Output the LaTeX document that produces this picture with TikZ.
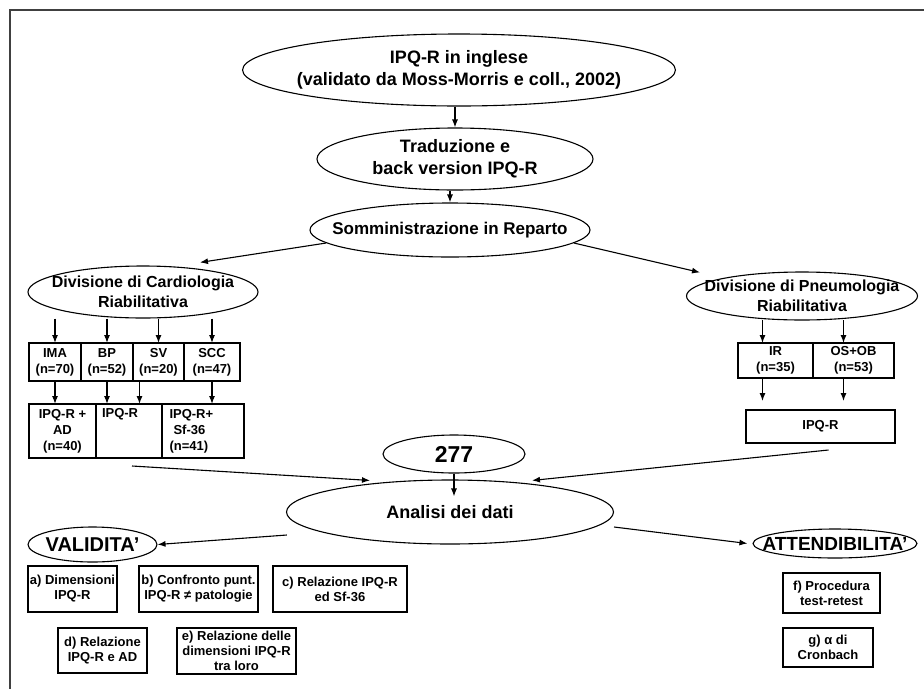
\documentclass[tikz,border=0pt]{standalone}
\usepackage{fontspec}
\setmainfont{Liberation Sans}
\usetikzlibrary{calc}
\usetikzlibrary{shapes,arrows.meta}
\usetikzlibrary{positioning}
\newcommand{\fsz}[2]{\fontsize{#1}{#2}\selectfont\bfseries}
\tikzstyle{ell}=[ellipse, draw, line width=1.1pt, align=center, inner ysep=0pt]
\tikzstyle{cell}=[rectangle, draw, line width=1.1pt, align=center, inner sep=0pt,
outer sep=0pt, font=\fsz{13}{16}]
\tikzstyle{bx}=[rectangle, draw, line width=1.1pt, align=center, inner sep=0pt,
font=\fsz{13}{15}]
\tikzstyle{arr}=[-{Latex[length=8pt,width=6pt]}, line width=1.1pt]

\begin{document}
\begin{tikzpicture}[x=1pt,y=-1pt]
\useasboundingbox (0,0) rectangle (924,689);
\draw[line width=1.6pt, black!75] (924,10) -- (10,10) -- (10,689);

% questionario e somministrazione
\node[ell, minimum width=432pt, minimum height=72pt, inner xsep=-9pt, font=\fsz{18}{22}]
(n1) at (459,70) {IPQ-R in inglese\\(validato da Moss-Morris e coll., 2002)};
\node[ell, minimum width=276pt, minimum height=62pt, font=\fsz{18}{22}]
(n2) at (455,159) {Traduzione e\\back version IPQ-R};
\node[ell, minimum width=280pt, minimum height=54pt, inner xsep=-27pt, font=\fsz{17}{20}]
(n3) at (450,230) {Somministrazione in Reparto};
\node[ell, minimum width=230pt, minimum height=52pt, inner xsep=-10pt, font=\fsz{16}{20}]
(n4) at (143,292) {Divisione di Cardiologia\\Riabilitativa};
\node[ell, minimum width=231pt, minimum height=48pt, inner xsep=-16pt, inner ysep=-2pt,
font=\fsz{16}{20}] (n5) at (802,296) {Divisione di Pneumologia\\Riabilitativa};

% cardiologia
\node[cell, minimum width=52pt, minimum height=38pt] (ima) at (55,362) {IMA\\(n=70)};
\node[cell, minimum width=52pt, minimum height=38pt, right=0pt of ima] (bp) {BP\\(n=52)};
\node[cell, minimum width=51pt, minimum height=38pt, right=0pt of bp] (sv) {SV\\(n=20)};
\node[cell, minimum width=56pt, minimum height=38pt, right=0pt of sv] (scc) {SCC\\(n=47)};
\node[cell, minimum width=67pt, minimum height=54pt] (c1) at (62.5,431) {IPQ-R +\\AD\\(n=40)};
\node[cell, minimum width=66pt, minimum height=54pt, text width=54pt, align=left,
right=0pt of c1] (c2) {IPQ-R\\\strut\\\strut};
\node[cell, minimum width=82pt, minimum height=54pt, text width=67pt, align=left,
right=0pt of c2] (c3) {IPQ-R+\\\hspace*{4pt}Sf-36\\(n=41)};
\draw[line width=2.6pt] (c3.north west) -- (c3.south west);

% pneumologia
\node[cell, minimum width=75pt, minimum height=35pt] (ir) at (775.5,360.5) {IR\\(n=35)};
\node[cell, minimum width=81pt, minimum height=35pt, right=0pt of ir] (os) {OS+OB\\(n=53)};
\node[cell, minimum width=149pt, minimum height=33pt] (p3) at (820.5,426.5) {IPQ-R};

% analisi
\node[ell, minimum width=142pt, minimum height=38pt, font=\fsz{23}{26}] (n6) at (454,454) {277};
\node[ell, minimum width=327pt, minimum height=64pt, font=\fsz{18}{22}] (n7) at (450,512) {Analisi dei dati};
\node[ell, minimum width=129pt, minimum height=35pt, inner xsep=-3.5pt, font=\fsz{20}{24}]
(n8) at (92.5,544.5) {VALIDITA'};
\node[ell, minimum width=164pt, minimum height=29pt, inner xsep=-18.3pt, font=\fsz{19}{23}]
(n9) at (835,543.5) {ATTENDIBILITA'};

\node[bx, minimum width=89pt, minimum height=46pt] (na) at (72.5,589) {a) Dimensioni\\IPQ-R};
\node[bx, minimum width=119pt, minimum height=46pt] (nb) at (198.5,589) {b) Confronto punt.\\IPQ-R ≠ patologie};
\node[bx, minimum width=134pt, minimum height=46pt] (nc) at (340,589) {c) Relazione IPQ-R\\ed Sf-36};
\node[bx, minimum width=89pt, minimum height=45pt] (nd) at (102.5,650.5) {d) Relazione\\IPQ-R e AD};
\node[bx, minimum width=119pt, minimum height=46pt] (ne) at (236.5,651) {e) Relazione delle\\dimensioni IPQ-R\\tra loro};
\node[bx, minimum width=97pt, minimum height=40pt] (nf) at (831.5,593) {f) Procedura\\test-retest};
\node[bx, minimum width=90pt, minimum height=39pt] (ng) at (828,647.5) {g) α di\\Cronbach};

% frecce
\draw[arr] (n2.north |- n1.south) -- (n2.north);
\draw[arr] (n3.north |- n2.south) -- (n3.north);
\draw[arr] (n3.186) -- ($(n4.north)+(57,-3)$);
\draw[arr] (n3.-6) -- ($(n5.north)+(-102,1)$);
\foreach \c in {ima,bp,sv,scc}
  \draw[arr] (n4.south -| \c.north) -- (\c.north);
\draw[arr] (ima.south) -- (ima.south |- c1.north);
\draw[arr] (bp.south) -- (bp.south |- c2.north);
\draw[arr] ($(sv.south)+(-19,0)$) -- ($(sv.south)+(-19,23)$);
\draw[arr] (scc.south) -- (scc.south |- c3.north);
\draw[arr] ($(ir.north)+(-13,-23)$) -- ($(ir.north)+(-13,0)$);
\draw[arr] ($(os.north)+(-10,-23)$) -- ($(os.north)+(-10,0)$);
\draw[arr] ($(ir.south)+(-13,0)$) -- ($(ir.south)+(-13,23)$);
\draw[arr] ($(os.south)+(-10,0)$) -- ($(os.south)+(-10,23)$);
\draw[arr] ($(c2.south)+(3,8)$) -- ($(n7.north)+(-80,1)$);
\draw[arr] ($(p3.south)+(8,7)$) -- ($(n7.north)+(82,1)$);
\draw[arr] (n6.south) -- ($(n7.north)+(4,17)$);
\draw[arr] ($(n7.west)+(1,23)$) -- (n8.east);
\draw[arr] ($(n7.east)+(0,15)$) -- ($(n9.west)+(-5,0)$);
\end{tikzpicture}
\end{document}
